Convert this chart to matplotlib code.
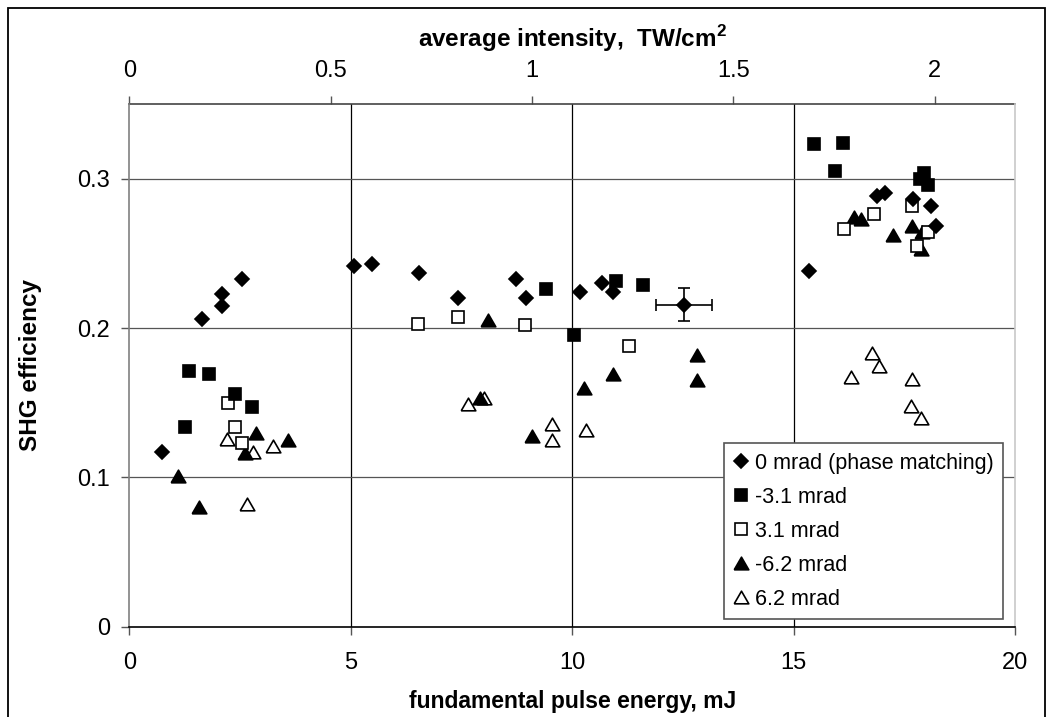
import matplotlib
matplotlib.use("Agg")
import matplotlib.pyplot as plt
from matplotlib.patches import Rectangle
from matplotlib.ticker import FormatStrFormatter

plt.rcParams["font.family"] = ["Liberation Sans", "DejaVu Sans"]
plt.rcParams["mathtext.fontset"] = "custom"
plt.rcParams["mathtext.rm"] = "Liberation Sans"
plt.rcParams["mathtext.bf"] = "Liberation Sans:bold"

# fundamental pulse energy (mJ) vs SHG efficiency, one pair per detuning angle
e_0 = [0.73, 1.65, 2.09, 2.09, 2.55, 5.08, 5.49, 6.54, 7.43, 8.72, 8.95,
       10.17, 10.68, 10.91, 12.53, 15.34, 16.87, 17.06, 17.68, 18.10, 18.20]
s_0 = [0.117, 0.206, 0.2145, 0.2227, 0.233, 0.2416, 0.243, 0.237, 0.220, 0.233, 0.220,
       0.224, 0.230, 0.224, 0.2156, 0.2385, 0.2885, 0.2907, 0.2867, 0.282, 0.268]

e_m31 = [1.25, 1.34, 1.79, 2.39, 2.77, 9.41, 10.04, 10.99, 11.59,
         15.46, 16.12, 15.93, 17.95, 17.85, 18.04]
s_m31 = [0.134, 0.171, 0.169, 0.156, 0.147, 0.226, 0.1956, 0.2316, 0.229,
         0.323, 0.324, 0.305, 0.304, 0.2996, 0.2956]

e_p31 = [2.23, 2.39, 2.55, 6.52, 7.41, 8.93, 11.27, 16.14, 16.81, 17.66, 18.02, 17.79]
s_p31 = [0.150, 0.134, 0.123, 0.203, 0.2076, 0.2018, 0.188, 0.266, 0.276, 0.282, 0.264, 0.255]

e_m62 = [1.11, 1.58, 2.62, 2.85, 3.59, 7.92, 8.09, 9.08, 10.27, 10.91, 12.81, 12.81,
         16.37, 16.51, 17.23, 17.66, 17.90, 17.87]
s_m62 = [0.101, 0.080, 0.116, 0.130, 0.125, 0.153, 0.2056, 0.128, 0.160, 0.169, 0.182, 0.165,
         0.2745, 0.273, 0.262, 0.2685, 0.2645, 0.253]

e_p62 = [2.21, 2.79, 3.24, 2.66, 7.65, 8.01, 9.55, 9.55, 10.31, 16.29, 16.77, 16.92, 17.67, 17.65, 17.87]
s_p62 = [0.126, 0.117, 0.121, 0.082, 0.149, 0.153, 0.136, 0.125, 0.1316, 0.167, 0.1833, 0.1745, 0.166, 0.148, 0.140]

series_labels = ["0 mrad (phase matching)", "-3.1 mrad", "3.1 mrad", "-6.2 mrad", "6.2 mrad"]

# typical uncertainty, shown on one phase-matched point
err_idx = 14
err_de = 0.63
err_ds = 0.011

energy_ticks = [0, 5, 10, 15, 20]
eff_ticks = [0, 0.1, 0.2, 0.3]
intensity_ticks = [0, 0.5, 1, 1.5, 2]
tw_per_mj = 0.11

tri = [(-1, -0.866), (1, -0.866), (0, 0.866), (-1, -0.866)]

fig = plt.figure(figsize=(10.52, 7.17), dpi=100)
ax = fig.add_axes([0.1229, 0.1259, 0.8422, 0.7291])

# inner grid lines (not on the frame)
for v in energy_ticks[1:-1]:
    ax.axvline(v, color="black", lw=0.9, zorder=0)
for v in eff_ticks[1:]:
    ax.axhline(v, color="#555555", lw=0.9, zorder=0)

kw = dict(ls="none", mec="black", mew=1.2)
h5, = ax.plot(e_p62, s_p62, marker=tri, ms=10.5, mfc="white", zorder=3, label=series_labels[4], **kw)
h4, = ax.plot(e_m62, s_m62, marker=tri, ms=10.5, mfc="black", zorder=4, label=series_labels[3], **kw)
h3, = ax.plot(e_p31, s_p31, marker="s", ms=8.3, mfc="white", zorder=5, label=series_labels[2], **kw)
h2, = ax.plot(e_m31, s_m31, marker="s", ms=8.3, mfc="black", zorder=6, label=series_labels[1], **kw)
h1, = ax.plot(e_0, s_0, marker="D", ms=7.2, mfc="black", zorder=7, label=series_labels[0], **kw)

ax.errorbar(e_0[err_idx], s_0[err_idx], xerr=err_de, yerr=err_ds, fmt="none",
            ecolor="black", elinewidth=1.2, capsize=4, capthick=1.2, zorder=6)

ax.set_xlim(0, 20)
ax.set_ylim(0, 0.35)
ax.set_xticks(energy_ticks)
ax.set_yticks(eff_ticks)
ax.yaxis.set_major_formatter(FormatStrFormatter("%g"))
ax.tick_params(axis="both", direction="out", length=6, width=1, labelsize=17, color="#555555")
ax.tick_params(axis="x", pad=12)
ax.tick_params(axis="y", pad=8)

ax.spines["left"].set_color("#808080")
ax.spines["bottom"].set_color("black")
ax.spines["right"].set_color("#c8c8c8")
ax.spines["top"].set_visible(False)
for s in ax.spines.values():
    s.set_linewidth(1.2)

ax.set_xlabel("fundamental pulse energy, mJ", fontsize=16.5, fontweight="bold", labelpad=12)
ax.set_ylabel("SHG efficiency", fontsize=17.5, fontweight="bold")
ax.yaxis.set_label_coords(-0.0985, 0.5)

top = ax.secondary_xaxis("top", functions=(lambda e: e * tw_per_mj, lambda i: i / tw_per_mj))
top.set_xticks(intensity_ticks)
top.xaxis.set_major_formatter(FormatStrFormatter("%g"))
top.tick_params(direction="out", length=5.5, width=1, labelsize=17, pad=10, color="#555555")
top.spines["top"].set_color("#444444")
top.spines["top"].set_linewidth(1.2)
top.set_xlabel("average intensity,  TW/cm$^\\mathbf{2}$", fontsize=17.5, fontweight="bold", labelpad=10)

leg = ax.legend(handles=[h1, h2, h3, h4, h5], loc="upper left", bbox_to_anchor=(0.671, 0.351),
                fontsize=15.5, frameon=True, fancybox=False, framealpha=1, edgecolor="#555555",
                handlelength=0.7, handletextpad=0.3, labelspacing=0.6, borderpad=0.45,
                borderaxespad=0)
leg.get_frame().set_linewidth(1.2)
leg.set_zorder(10)

# outer border round the whole figure
fig.patches.append(Rectangle((8 / 1052, -0.02), 1037 / 1052, 1.02 - 8 / 717,
                             transform=fig.transFigure, fill=False, ec="black", lw=1.3))

fig.savefig("out.png", dpi=100)
